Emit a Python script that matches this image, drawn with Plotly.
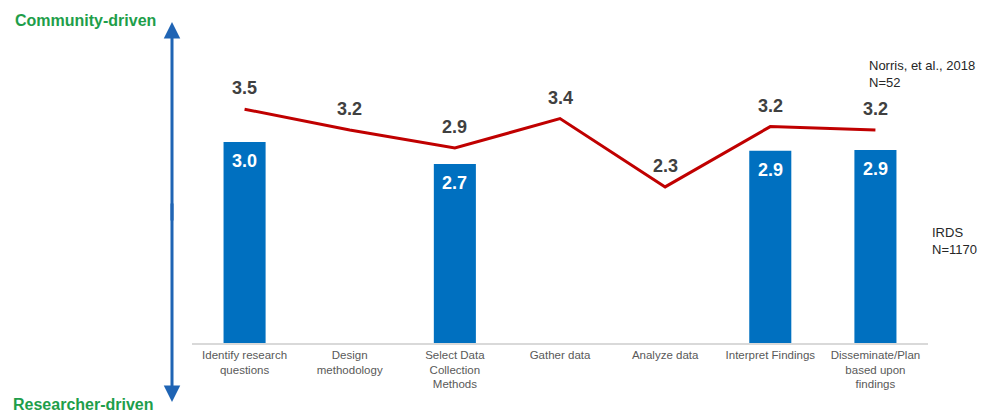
import plotly.graph_objects as go

categories = ["Identify research<br>questions", "Design<br>methodology", "Select Data<br>Collection<br>Methods",
              "Gather data", "Analyze data", "Interpret Findings", "Disseminate/Plan<br>based upon<br>findings"]
irds_values = [3.0, None, 2.67, None, None, 2.87, 2.88]
norris_values = [3.49, 3.18, 2.91, 3.35, 2.33, 3.23, 3.18]

W, H = 989, 413
ml, mr, mt, mb = 192, 61, 8, 70
plot_w = W - ml - mr
plot_h = H - mt - mb

FONT = "Liberation Sans, Arial"

fig = go.Figure()
fig.add_trace(go.Bar(
    x=categories, y=irds_values, width=0.4,
    marker=dict(color="#0070C0", line=dict(width=0)),
    hoverinfo="skip", showlegend=False,
))
fig.add_trace(go.Scatter(
    x=categories, y=norris_values, mode="lines",
    line=dict(color="#C00000", width=3),
    showlegend=False, hoverinfo="skip",
))

def px_to_paper_x(px):
    return (px - ml) / plot_w

def px_to_paper_y(py):
    return (H - mb - py) / plot_h

anns = []
for c, v in zip(categories, norris_values):
    anns.append(dict(x=c, y=v, xref="x", yref="y", text=f"<b>{v:.1f}</b>", showarrow=False,
                     yshift=21, font=dict(color="#404040", size=18, family=FONT)))
for c, v in zip(categories, irds_values):
    if v is None:
        continue
    anns.append(dict(x=c, y=v, xref="x", yref="y", text=f"<b>{v:.1f}</b>", showarrow=False,
                     yshift=-19, font=dict(color="white", size=18, family=FONT)))

arrow_color = "#1F64B4"
anns += [
    dict(x=px_to_paper_x(172), y=px_to_paper_y(22), xref="paper", yref="paper",
         ax=0, ay=200, showarrow=True, arrowhead=2, arrowsize=1.1, arrowwidth=3,
         arrowcolor=arrow_color, text=""),
    dict(x=px_to_paper_x(172), y=px_to_paper_y(402), xref="paper", yref="paper",
         ax=0, ay=-200, showarrow=True, arrowhead=2, arrowsize=1.1, arrowwidth=3,
         arrowcolor=arrow_color, text=""),
    dict(x=px_to_paper_x(85), y=px_to_paper_y(21), xref="paper", yref="paper",
         text="<b>Community-driven</b>", showarrow=False, xanchor="center", yanchor="middle",
         font=dict(color="#1E9E4A", size=16, family=FONT)),
    dict(x=px_to_paper_x(83), y=px_to_paper_y(404), xref="paper", yref="paper",
         text="<b>Researcher-driven</b>", showarrow=False, xanchor="center", yanchor="middle",
         font=dict(color="#1E9E4A", size=16, family=FONT)),
    dict(x=px_to_paper_x(867), y=px_to_paper_y(74), xref="paper", yref="paper",
         text="Norris, et al., 2018<br>N=52", showarrow=False, xanchor="left", yanchor="middle",
         align="left", font=dict(color="#262626", size=13, family=FONT)),
    dict(x=px_to_paper_x(930), y=px_to_paper_y(241), xref="paper", yref="paper",
         text="IRDS<br>N=1170", showarrow=False, xanchor="left", yanchor="middle",
         align="left", font=dict(color="#262626", size=13, family=FONT)),
]

fig.update_layout(
    width=W, height=H,
    margin=dict(l=ml, r=mr, t=mt, b=mb, autoexpand=False),
    plot_bgcolor="white", paper_bgcolor="white",
    annotations=anns,
    xaxis=dict(showgrid=False, showline=True, linecolor="#D9D9D9", linewidth=1.5,
               ticks="", automargin=False,
               tickfont=dict(color="#595959", size=11.5, family=FONT),
               range=[-0.5, 6.5]),
    yaxis=dict(visible=False, range=[0, 5], showgrid=False, zeroline=False, automargin=False),
    bargap=0.6,
)

fig.write_html("out.html", config={"displayModeBar": False},
               post_script="document.body.style.margin='0';document.body.style.overflow='hidden';")
